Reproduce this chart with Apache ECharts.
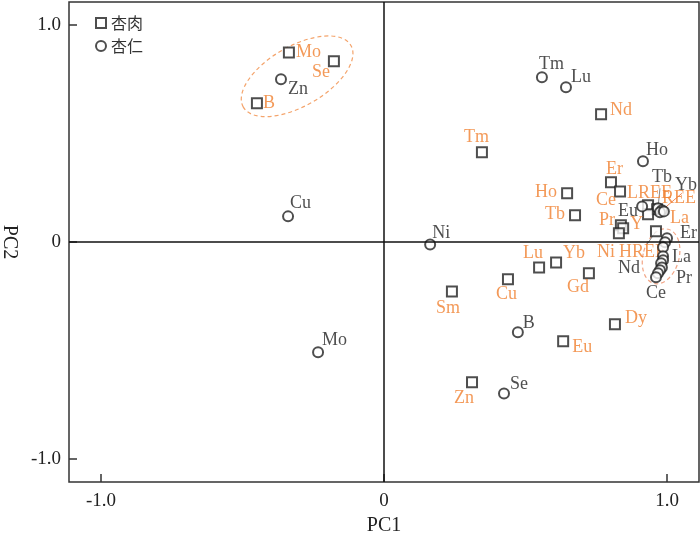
<!DOCTYPE html>
<html>
<head>
<meta charset="utf-8">
<script src="https://cdn.jsdelivr.net/npm/echarts@6/dist/echarts.min.js"></script>
<style>
html, body { margin: 0; padding: 0; background: #fff; }
#chart { width: 700px; height: 536px; }
</style>
</head>
<body>
<div id="chart"></div>
<script>
// 杏肉 (flesh) loadings
const fleshNames = ['Mo', 'Se', 'B', 'Tm', 'Nd', 'Er', 'Ho', 'Ce', 'Tb', 'LREE', 'REE', 'La', 'Pr', 'Y', 'Ni', 'HREE', 'Lu', 'Yb', 'Cu', 'Gd', 'Sm', 'Dy', 'Eu', 'Zn']
const fleshPC1 = [-0.336, -0.177, -0.449, 0.346, 0.767, 0.802, 0.647, 0.834, 0.675, 0.933, 0.965, 0.933, 0.837, 0.845, 0.830, 0.961, 0.548, 0.608, 0.438, 0.724, 0.240, 0.816, 0.633, 0.311]
const fleshPC2 = [0.873, 0.832, 0.639, 0.413, 0.588, 0.275, 0.224, 0.233, 0.123, 0.169, 0.151, 0.128, 0.077, 0.063, 0.040, 0.049, -0.117, -0.094, -0.172, -0.144, -0.228, -0.379, -0.457, -0.646]

// 杏仁 (kernel) loadings
const kernelNames = ['Zn', 'Cu', 'Ni', 'Mo', 'B', 'Se', 'Tm', 'Lu', 'Ho', 'Eu', 'Tb', 'Yb', 'LREE', 'REE', 'Er', 'Y', 'Dy', 'La', 'Gd', 'HREE', 'Pr', 'Sm', 'Nd', 'Ce']
const kernelPC1 = [-0.364, -0.339, 0.163, -0.233, 0.473, 0.424, 0.558, 0.643, 0.915, 0.912, 0.968, 0.982, 0.975, 0.989, 1.000, 0.993, 0.986, 0.986, 0.986, 0.979, 0.982, 0.975, 0.968, 0.961]
const kernelPC2 = [0.749, 0.118, -0.011, -0.508, -0.416, -0.697, 0.758, 0.712, 0.372, 0.164, 0.155, 0.146, 0.137, 0.141, 0.017, -0.001, -0.024, -0.066, -0.084, -0.098, -0.117, -0.130, -0.144, -0.162]
const kernelUnlabeled = ['Y', 'Dy', 'Gd', 'HREE', 'Sm', 'LREE', 'REE']

// axis ticks
const tickValues = [-1, 0, 1]
const tickLabels = ['-1.0', '0', '1.0']

// dashed group ellipses (centre in data units)
const ellipseCenters = [[-0.307, 0.763], [0.979, -0.066]]

// label placement, px from marker centre to label's left/middle
const fleshOffsets = {
    Mo: [7, 0], Se: [-22, 11], B: [6, 0], Tm: [-18, -15], Nd: [9, -4], Er: [-5, -13],
    Ho: [-32, -1], Ce: [-24, 9], Tb: [-30, -1], LREE: [-21, -12], REE: [5, -11], La: [22, 4],
    Pr: [-22, -5], Y: [7, -4], Ni: [-22, 19], HREE: [-37, 21], Lu: [-16, -14], Yb: [7, -9],
    Cu: [-12, 15], Gd: [-22, 14], Sm: [-16, 17], Dy: [10, -6], Eu: [9, 6], Zn: [-18, 16]
}
const kernelOffsets = {
    Zn: [7, 10], Cu: [2, -13], Ni: [2, -11], Mo: [4, -12], B: [5, -9], Se: [6, -9],
    Tm: [-3, -13], Lu: [5, -10], Ho: [3, -11], Eu: [-24, 5], Tb: [-6, -31], Yb: [13, -25],
    Er: [13, -5], La: [9, 1], Pr: [14, 11], Ce: [-10, 16], Nd: [-40, -5]
}
const ellipseShapes = [
    { rx: 62, ry: 30, rot: 0.52, color: '#f4a46c' },
    { rx: 18, ry: 28, rot: -0.26, color: '#f2a585' }
]
// leader lines: [series, name, end offset px from marker, colour]
const leaders = [
    ['kernel', 'Tb', [2, -20], '#888'],
    ['kernel', 'Yb', [20, -17], '#f08a5a'],
    ['flesh', 'HREE', [-9, 13], '#888']
]

const ORANGE = '#f07f2e'
const SERIF = 'Liberation Serif'

function buildData (names, xs, ys, offsets, color, hidden) {
    return names.map((n, i) => {
        const item = { name: n, value: [xs[i], ys[i]] }
        if (hidden && hidden.indexOf(n) >= 0) {
            item.label = { show: false }
            return item
        }
        const off = offsets[n] || [6, 0]
        item.label = { show: true, offset: off, color: color }
        return item
    })
}

function leaderValue (l) {
    const names = l[0] === 'kernel' ? kernelNames : fleshNames
    const xs = l[0] === 'kernel' ? kernelPC1 : fleshPC1
    const ys = l[0] === 'kernel' ? kernelPC2 : fleshPC2
    const i = names.indexOf(l[1])
    return [xs[i], ys[i]]
}

const chart = echarts.init(document.getElementById('chart'))

const baseLabel = {
    show: true,
    position: 'inside',
    align: 'left',
    verticalAlign: 'middle',
    fontFamily: SERIF,
    fontSize: 18,
    formatter: '{b}'
}

const axisCommon = {
    type: 'value',
    nameLocation: 'middle',
    nameTextStyle: { fontFamily: SERIF, fontSize: 20, color: '#222' },
    splitLine: { show: false },
    axisLine: { show: false, onZero: false },
    axisTick: {
        show: true, inside: true, length: 8,
        customValues: tickValues,
        lineStyle: { color: '#333', width: 1.5 }
    }
}

chart.setOption({
    animation: false,
    backgroundColor: '#fff',
    grid: {
        left: 69, right: 1, top: 2, bottom: 54,
        show: true,
        borderColor: '#333',
        borderWidth: 1.5,
        backgroundColor: 'transparent',
        containLabel: false,
        outerBoundsMode: 'none'
    },
    legend: {
        orient: 'vertical',
        left: 90,
        top: 10,
        itemWidth: 10,
        itemHeight: 10,
        itemGap: 7,
        data: ['杏肉', '杏仁'],
        textStyle: { fontFamily: 'Noto Sans CJK SC', fontSize: 16, color: '#333' }
    },
    xAxis: Object.assign({}, axisCommon, {
        min: -1.113,
        max: 1.113,
        name: 'PC1',
        nameGap: 29,
        axisLabel: {
            fontFamily: SERIF, fontSize: 19, color: '#222', margin: 10,
            customValues: tickValues,
            formatter: v => tickLabels[tickValues.indexOf(Math.round(v))]
        }
    }),
    yAxis: Object.assign({}, axisCommon, {
        min: -1.105,
        max: 1.105,
        name: 'PC2',
        nameRotate: -90,
        nameGap: 50,
        axisLabel: {
            fontFamily: SERIF, fontSize: 19, color: '#222', margin: 8,
            customValues: tickValues,
            formatter: v => tickLabels[tickValues.indexOf(Math.round(v))]
        }
    }),
    series: [
        {
            type: 'custom',
            name: 'ellipses',
            silent: true,
            clip: false,
            z: 1,
            renderItem: (params, api) => {
                const p = api.coord([api.value(0), api.value(1)])
                const s = ellipseShapes[params.dataIndex]
                return {
                    type: 'ellipse',
                    x: p[0], y: p[1],
                    rotation: s.rot,
                    shape: { cx: 0, cy: 0, rx: s.rx, ry: s.ry },
                    style: { fill: 'none', stroke: s.color, lineWidth: 1.2, lineDash: [4, 3] }
                }
            },
            data: ellipseCenters
        },
        {
            type: 'custom',
            name: 'leaders',
            silent: true,
            clip: false,
            z: 2,
            renderItem: (params, api) => {
                const p = api.coord([api.value(0), api.value(1)])
                const l = leaders[params.dataIndex]
                return {
                    type: 'line',
                    shape: { x1: p[0], y1: p[1], x2: p[0] + l[2][0], y2: p[1] + l[2][1] },
                    style: { stroke: l[3], lineWidth: 1 }
                }
            },
            data: leaders.map(leaderValue)
        },
        {
            type: 'scatter',
            name: '杏肉',
            symbol: 'emptyRect',
            symbolSize: 10,
            z: 3,
            itemStyle: { color: '#222', borderWidth: 1.8 },
            label: Object.assign({}, baseLabel, { color: ORANGE }),
            data: buildData(fleshNames, fleshPC1, fleshPC2, fleshOffsets, ORANGE),
            markLine: {
                silent: true,
                symbol: 'none',
                label: { show: false },
                lineStyle: { color: '#111', type: 'solid', width: 1.5 },
                data: [{ xAxis: 0 }, { yAxis: 0 }]
            }
        },
        {
            type: 'scatter',
            name: '杏仁',
            symbol: 'emptyCircle',
            symbolSize: 10,
            z: 4,
            itemStyle: { color: '#222', borderWidth: 1.8 },
            label: Object.assign({}, baseLabel, { color: '#222' }),
            data: buildData(kernelNames, kernelPC1, kernelPC2, kernelOffsets, '#222', kernelUnlabeled)
        }
    ]
})
</script>
</body>
</html>
